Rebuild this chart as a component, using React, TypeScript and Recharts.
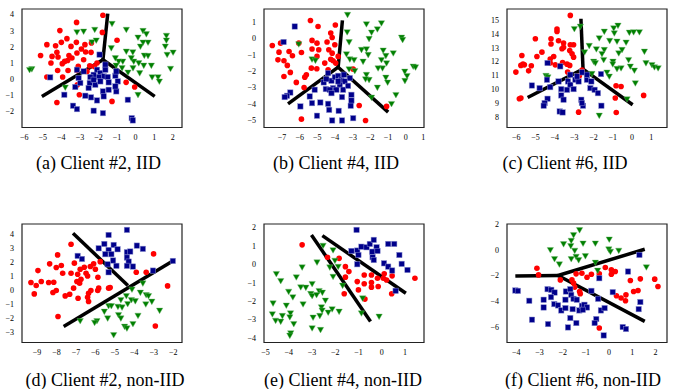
import React from 'react';
import { ScatterChart, Scatter, XAxis, YAxis, ReferenceLine, ReferenceArea } from 'recharts';

type P = [number, number];

// ---- (a) Client #2, IID ----
const redA: P[] = [
  [-1.76, 3.96], [-3.18, 3.52], [-4.08, 3.01], [-1.79, 2.9], [-3.7, 2.51], [-3.19, 2.28], [-4.0, 2.28],
  [-4.78, 2.14], [-4.31, 2.07], [-2.38, 2.24], [-2.73, 2.14], [-1.0, 2.41], [-5.12, 1.47], [-4.24, 1.66],
  [-4.18, 1.37], [-3.48, 2.03], [-2.92, 1.87], [-3.16, 1.62], [-2.69, 1.68], [-2.4, 1.66], [-3.43, 1.31],
  [-3.66, 1.16], [-3.82, 1.1], [-3.95, 0.96], [-3.59, 1.47], [-4.56, 1.0], [-3.09, 0.79], [-4.2, 0.54],
  [-3.64, 0.54], [-3.16, 0.54], [-2.47, 0.83], [-2.08, 1.0], [-2.22, 0.79], [-2.62, 0.48], [-4.78, 0.13],
  [-3.93, 0.13], [-3.14, -0.35], [-3.03, -0.97], [-4.24, -1.45], [-1.27, -1.38], [-0.51, -0.2],
  [-0.05, -0.49], [-4.5, 1.41], [-2.8, 1.2],
];
const greenA: P[] = [
  [-5.59, 0.63], [-5.71, 0.58], [-3.16, 2.92], [-2.8, 2.96], [-2.2, 3.07], [-1.27, 3.44], [-0.5, 3.07],
  [-2.35, 2.3], [-2.12, 2.41], [-1.31, 1.93], [-0.5, 1.72], [-0.15, 1.68], [0.13, 2.59], [0.4, 3.0],
  [0.58, 2.8], [0.67, 2.28], [0.4, 2.28], [0.26, 2.03], [0.47, 1.47], [0.67, 1.45], [1.66, 2.7],
  [1.66, 2.41], [1.6, 2.03], [2.02, 1.66], [1.7, 1.52], [1.88, 0.65], [0.85, 0.85], [0.44, 0.85],
  [0.17, 1.0], [-0.1, 1.1], [-0.14, 0.69], [0.22, 0.38], [0.89, 0.13], [1.21, 0.13], [1.28, -0.14],
  [-0.69, 1.1], [-0.91, 1.1], [-1.09, 1.31], [-1.05, 0.85], [-0.73, 0.69], [0.13, -0.97], [-3.79, -0.51],
  [-0.23, 1.31], [-0.41, 0.42],
];
const blueA: P[] = [
  [-1.94, 1.52], [-1.63, 0.9], [-2.08, 0.58], [-1.9, 0.38], [-1.72, 0.17], [-1.99, 0.13], [-2.26, 0.27],
  [-2.44, 0.13], [-2.8, 0.48], [-3.16, 0.58], [-3.07, 0.07], [-3.25, -0.49], [-2.47, -0.24], [-2.53, -0.55],
  [-2.17, -0.35], [-1.9, -0.14], [-1.5, 0.13], [-1.09, 0.21], [-1.04, 0.48], [-0.96, -0.14], [-1.45, -0.2],
  [-1.76, -0.76], [-1.45, -0.66], [-1.04, -0.76], [-1.09, -0.45], [-1.72, -1.07], [-2.08, -1.32],
  [-2.71, -1.03], [-2.4, -1.13], [-3.84, -0.97], [-3.37, -1.65], [-3.16, -1.86], [-2.26, -1.96],
  [-1.76, -2.11], [-0.42, -1.28], [-0.21, -2.42], [-0.15, -2.56], [-4.6, 0.11], [-2.98, -0.24],
  [-1.63, 0.58], [-2.26, -0.04],
];
const linesA: P[][] = [
  [[-1.76, 1.2], [-1.5, 4.06]],
  [[-1.76, 1.2], [-5.05, -1.07]],
  [[-1.76, 1.2], [1.03, -1.07]],
];

// ---- (b) Client #4, IID ----
const redB: P[] = [
  [-5.39, 1.1], [-4.96, 0.73], [-3.98, 0.82], [-7.55, -0.43], [-7.08, -0.29], [-7.17, -0.84], [-6.6, -0.8],
  [-5.9, -0.86], [-6.41, -1.06], [-7.23, -1.31], [-6.89, -1.37], [-6.7, -1.65], [-6.53, -2.08], [-6.89, -2.33],
  [-6.19, -2.69], [-5.71, -2.37], [-5.75, -3.0], [-5.3, -0.12], [-5.02, -0.29], [-5.3, -0.65], [-4.92, -0.69],
  [-4.45, -0.22], [-4.24, 0.33], [-4.16, 0.06], [-4.01, -0.39], [-4.35, -0.69], [-4.16, -0.9], [-4.24, -1.27],
  [-4.11, -1.37], [-3.96, -1.51], [-4.58, -1.51], [-5.02, -1.1], [-5.34, -1.82], [-5.03, -1.86],
  [-5.62, -2.22], [-6.05, -0.29], [-5.9, -4.94], [-2.27, -5.02], [-2.97, -1.88], [-2.63, -4.1],
  [-1.08, -4.16], [-3.82, -1.1], [-4.39, -1.92],
];
const greenB: P[] = [
  [-3.29, 1.45], [-2.22, 0.88], [-1.37, 0.94], [-1.6, 0.57], [-1.93, 0.37], [-2.07, -0.02], [-3.31, 0.39],
  [-3.2, -0.22], [-0.23, 0.06], [-0.17, -0.08], [-6.05, -0.35], [-3.35, -0.96], [-3.16, -1.27], [-2.92, -1.31],
  [-2.5, -0.69], [-2.22, -0.65], [-2.12, -1.0], [-1.27, -0.73], [-1.12, -1.06], [-1.37, -1.31], [-0.7, -0.9],
  [-1.08, -1.51], [-1.31, -1.82], [-1.56, -1.82], [-2.41, -1.41], [-3.2, -1.88], [-2.88, -1.98],
  [-2.22, -2.22], [-2.07, -2.53], [-2.27, -2.49], [-1.12, -2.39], [-1.02, -2.69], [-1.6, -3.0],
  [-0.05, -2.02], [0.08, -2.29], [-0.04, -2.59], [0.43, -1.71], [0.56, -1.76], [-0.55, -3.45], [-0.8, -4.0],
  [-1.93, -3.61], [-5.3, -1.27], [-5.11, -1.35],
];
const blueB: P[] = [
  [-6.28, 0.73], [-6.91, -0.22], [-6.53, -3.31], [-6.72, -3.51], [-6.85, -3.59], [-5.96, -4.16], [-5.3, -3.96],
  [-5.43, -3.55], [-5.15, -3.14], [-4.83, -3.92], [-4.64, -2.69], [-4.52, -3.1], [-4.39, -2.12], [-4.2, -2.59],
  [-4.01, -2.37], [-3.82, -2.29], [-3.64, -2.53], [-3.45, -2.63], [-3.73, -2.84], [-4.11, -3.04],
  [-4.3, -3.14], [-3.92, -3.14], [-3.54, -3.14], [-3.26, -2.9], [-3.16, -2.43], [-3.5, -2.22], [-4.2, -3.35],
  [-3.6, -3.59], [-3.07, -3.45], [-3.07, -3.8], [-3.11, -4.12], [-4.39, -4.0], [-4.33, -4.37], [-3.79, -4.43],
  [-5.02, -4.73], [-4.16, -5.02], [-3.6, -5.02], [-2.97, -4.88], [-3.82, -2.63], [-4.49, -2.49],
];
const linesB: P[][] = [
  [[-3.82, -1.76], [-3.58, 1.1]],
  [[-3.82, -1.76], [-6.66, -4.0]],
  [[-3.82, -1.76], [-0.99, -4.51]],
];

// ---- (c) Client #6, IID ----
const redC: P[] = [
  [-3.2, 15.31], [-3.89, 14.33], [-3.89, 14.16], [-5.01, 13.64], [-4.2, 13.64], [-4.2, 13.26], [-3.81, 13.5],
  [-3.55, 13.33], [-3.55, 13.02], [-3.2, 13.21], [-3.03, 13.21], [-3.63, 12.92], [-3.23, 12.8], [-3.11, 12.56],
  [-4.67, 12.68], [-4.93, 12.37], [-5.71, 12.44], [-5.65, 11.82], [-5.58, 11.77], [-5.76, 11.73], [-5.22, 11.7],
  [-5.36, 11.34], [-6.02, 11.25], [-4.06, 12.37], [-4.24, 12.18], [-4.24, 11.9], [-3.98, 11.77], [-3.6, 11.94],
  [-3.37, 11.82], [-3.23, 11.73], [-3.77, 11.7], [-3.34, 11.25], [-3.03, 12.32], [-5.84, 9.34], [-5.76, 9.39],
  [-2.77, 8.38], [-0.83, 10.27], [-0.57, 10.22], [-0.87, 9.39], [-0.82, 8.36], [0.6, 9.58], [-2.73, 10.99],
  [-2.59, 11.4],
];
const greenC: P[] = [
  [-2.99, 14.35], [-2.68, 14.52], [-1.44, 14.16], [-0.95, 14.4], [-0.73, 14.59], [-0.92, 14.04], [-1.16, 13.5],
  [-0.78, 13.45], [-0.31, 13.38], [-0.14, 14.09], [0.08, 14.12], [0.38, 14.12], [-1.7, 13.69], [-2.22, 13.14],
  [-1.85, 12.9], [-1.44, 12.85], [-1.56, 12.56], [-0.69, 12.61], [-0.52, 12.85], [-2.46, 12.68], [-1.99, 12.01],
  [-1.9, 11.9], [-1.47, 12.13], [-0.99, 12.01], [-1.0, 11.82], [-0.57, 11.54], [-0.78, 11.49], [-0.18, 12.13],
  [-0.09, 11.66], [0.12, 11.37], [0.64, 12.73], [0.72, 11.9], [1.03, 11.77], [1.16, 11.61], [1.35, 11.54],
  [-1.3, 11.23], [-1.18, 10.94], [0.17, 10.46], [-1.7, 8.14], [-0.26, 9.31], [-4.46, 10.99], [-4.36, 10.89],
  [-2.08, 11.13],
];
const blueC: P[] = [
  [-4.38, 11.9], [-3.72, 11.66], [-5.19, 10.29], [-4.79, 10.1], [-4.38, 9.34], [-4.53, 9.03], [-4.58, 8.84],
  [-4.24, 10.17], [-3.81, 10.58], [-3.67, 10.03], [-3.32, 10.58], [-3.2, 10.34], [-2.94, 10.7], [-2.77, 10.58],
  [-3.03, 10.03], [-3.37, 9.98], [-3.67, 9.58], [-3.55, 9.27], [-3.75, 8.43], [-3.6, 8.36], [-2.63, 9.27],
  [-2.54, 8.84], [-2.6, 9.03], [-2.34, 10.7], [-2.11, 10.58], [-2.16, 10.1], [-1.94, 9.98], [-1.77, 9.74],
  [-1.61, 11.11], [-1.59, 8.84], [-2.6, 11.23], [-2.85, 10.94], [-2.34, 11.06], [-3.2, 11.06], [-4.41, 10.7],
];
const linesC: P[][] = [
  [[-2.54, 11.46], [-2.65, 15.07]],
  [[-2.54, 11.46], [-5.41, 9.43]],
  [[-2.54, 11.46], [0.03, 8.91]],
];

// ---- (d) Client #2, non-IID ----
const redD: P[] = [
  [-7.25, 3.29], [-7.94, 2.53], [-8.95, 1.41], [-8.35, 1.89], [-8.01, 1.63], [-7.75, 1.77], [-7.68, 1.22],
  [-9.31, 0.56], [-9.04, 0.35], [-8.78, 0.63], [-8.4, 0.56], [-8.14, 0.58], [-9.14, -0.25], [-8.18, -0.15],
  [-8.01, -0.01], [-7.55, -0.39], [-7.32, -0.27], [-7.12, 0.16], [-6.89, -0.56], [-7.25, 1.22], [-7.08, 1.94],
  [-6.91, 1.15], [-6.95, 0.63], [-6.81, 0.51], [-6.74, 0.8], [-6.78, 1.51], [-6.57, 1.65], [-6.48, 1.22],
  [-6.4, 1.03], [-6.26, 1.7], [-6.09, 1.89], [-6.0, 1.51], [-5.87, 0.94], [-5.83, 0.16], [-5.88, -0.01],
  [-6.23, -0.01], [-6.35, -0.2], [-6.4, -0.49], [-6.35, -0.79], [-5.75, 2.05], [-5.32, 0.16], [-5.24, 0.2],
  [-7.92, -1.86], [-3.9, 1.29], [-3.39, 1.29], [-3.01, 2.6], [-2.29, 0.32], [-2.92, -2.53],
];
const greenD: P[] = [
  [-3.56, 0.51], [-4.12, 0.08], [-3.69, -0.15], [-3.39, -0.32], [-3.27, -0.39], [-4.41, -0.39], [-4.69, -0.67],
  [-4.15, -0.67], [-3.95, -0.75], [-4.34, -0.96], [-3.1, -0.79], [-3.41, -0.98], [-5.32, -1.1], [-5.18, -1.1],
  [-4.84, -1.15], [-4.63, -1.2], [-2.7, -1.43], [-5.54, -1.5], [-4.81, -1.74], [-4.69, -1.98], [-5.37, -1.98],
  [-3.81, -1.79], [-5.92, -2.17], [-6.04, -2.29], [-6.78, -2.17], [-4.07, -2.38], [-4.5, -2.57],
  [-4.38, -2.69], [-5.06, -3.17],
];
const blueD: P[] = [
  [-5.32, 3.95], [-4.38, 4.31], [-5.83, 3.0], [-5.54, 3.31], [-5.06, 3.24], [-5.32, 2.88], [-4.86, 2.93],
  [-5.49, 2.58], [-5.18, 2.58], [-6.91, 2.46], [-6.69, 2.24], [-4.38, 2.72], [-4.21, 2.77], [-3.87, 3.19],
  [-3.56, 2.96], [-4.38, 2.34], [-4.29, 2.05], [-4.38, 1.75], [-4.07, 1.7], [-5.09, 2.13], [-5.37, 1.86],
  [-4.92, 1.75], [-5.32, 1.29], [-3.04, 1.41], [-2.02, 2.1],
];
const linesD: P[][] = [
  [[-7.15, 4.07], [-4.33, 0.35]],
  [[-7.63, -2.57], [-1.98, 2.13]],
];

// ---- (e) Client #4, non-IID ----
const redE: P[] = [
  [-3.42, 1.05], [-2.33, 0.38], [-1.83, 0.32], [-1.56, -0.13], [-1.41, -0.4], [-1.56, -0.7], [-1.61, -1.6],
  [-1.05, -0.94], [-1.0, -1.39], [-0.72, -1.89], [-0.75, -0.58], [-0.44, -0.58], [-0.44, -0.99], [-0.44, -1.24],
  [-0.75, -1.06], [-0.18, -0.76], [-0.15, -1.21], [0.07, -0.76], [0.21, -0.85], [0.45, -0.63], [0.43, -1.6],
  [1.43, -0.76], [0.11, -0.52],
];
const greenE: P[] = [
  [-2.52, 1.01], [-2.09, 0.77], [-2.78, 0.11], [-3.42, -0.16], [-2.01, 0.2], [-1.87, -0.13], [-2.23, -0.16],
  [-2.09, -0.67], [-4.53, -0.52], [-4.34, -0.9], [-3.67, -0.7], [-4.0, -1.48], [-3.82, -1.78], [-3.48, -1.24],
  [-3.26, -1.26], [-2.99, -1.06], [-3.05, -1.6], [-2.99, -1.71], [-2.69, -1.44], [-2.8, -1.66], [-2.55, -1.53],
  [-2.42, -1.96], [-2.59, -2.32], [-2.56, -2.5], [-2.13, -2.43], [-2.3, -2.61], [-1.83, -2.56], [-3.38, -2.16],
  [-4.1, -2.23], [-4.67, -2.11], [-4.7, -2.7], [-4.27, -2.79], [-3.92, -2.65], [-3.95, -2.86], [-4.56, -3.05],
  [-4.34, -3.1], [-3.78, -3.23], [-2.95, -2.88], [-2.66, -2.79], [-2.99, -3.46], [-2.63, -3.55],
  [-3.91, -3.73], [-3.95, -3.86], [-0.87, -2.65], [-0.11, -2.83], [-0.82, -1.84], [-1.68, -1.15],
];
const blueE: P[] = [
  [-1.08, 1.86], [-1.3, 0.72], [-1.05, 0.74], [-0.87, 0.95], [-0.65, 0.92], [-0.51, 1.1], [-0.34, 1.32],
  [-0.22, 0.92], [-0.18, 0.72], [-0.41, 0.68], [-1.0, 0.5], [-0.39, 0.38], [-0.34, 0.23], [0.28, 1.1],
  [0.54, 1.1], [-1.05, 0.0], [0.1, 0.05], [0.28, -0.13], [0.45, -0.34], [0.76, 0.5], [0.86, 0.02],
  [1.11, -0.31], [0.6, -1.44],
];
const linesE: P[][] = [
  [[-3.02, 1.59], [-0.48, -3.1]],
  [[-2.55, 1.55], [1.04, -1.57]],
];

// ---- (f) Client #6, non-IID ----
const redF: P[] = [
  [-3.11, -1.43], [-3.04, -1.95], [-2.1, -2.34], [-1.6, -2.34], [-1.42, -1.87], [-1.17, -1.82], [-0.95, -2.13],
  [-0.76, -1.9], [-0.42, -1.87], [-0.16, -1.38], [0.1, -1.56], [0.27, -1.69], [0.1, -1.9], [0.32, -3.57],
  [0.52, -3.75], [0.71, -3.96], [0.73, -3.5], [1.06, -3.24], [1.25, -3.16], [1.35, -2.26], [0.92, -2.39],
  [1.97, -2.28], [2.11, -2.85], [-0.42, -6.08], [-1.48, -2.9], [-1.24, -3.42], [-1.27, -3.24], [-1.53, -2.59],
];
const greenF: P[] = [
  [-1.27, 1.54], [-1.53, 1.15], [-1.63, 0.71], [-1.96, 0.45], [-1.65, 0.3], [-1.48, -0.06], [-1.12, 0.5],
  [-0.59, 0.5], [0.01, 0.81], [-0.01, 0.04], [0.06, -0.14], [0.42, -0.06], [-2.53, -0.01], [-2.35, -0.71],
  [-2.14, -1.12], [-1.63, -0.71], [-1.42, -0.53], [-1.31, -0.79], [-1.02, -0.48], [-0.59, -0.99],
  [-0.49, -1.61], [1.61, -1.35],
];
const blueF: P[] = [
  [-4.04, -3.16], [-3.93, -3.19], [-3.44, -3.96], [-3.32, -5.43], [-2.65, -3.06], [-2.49, -3.11], [-2.35, -3.32],
  [-2.5, -3.68], [-2.82, -3.88], [-2.82, -4.48], [-2.63, -5.77], [-2.36, -4.22], [-2.2, -4.32], [-2.06, -4.71],
  [-1.88, -4.53], [-1.88, -3.88], [-1.86, -3.24], [-1.67, -3.06], [-1.63, -3.5], [-1.53, -3.81], [-1.39, -3.88],
  [-1.57, -4.61], [-1.67, -5.3], [-1.77, -6.03], [-1.41, -5.69], [-1.28, -4.71], [-1.17, -4.35], [-1.06, -4.27],
  [-0.95, -4.48], [-1.13, -4.66], [-0.76, -3.19], [-0.47, -3.81], [-0.35, -4.71], [-0.19, -4.53],
  [-0.55, -5.38], [-0.62, -5.69], [-0.42, -2.21], [-0.23, -6.65], [0.16, -3.29], [0.59, -6.0], [0.73, -6.15],
  [0.82, -1.69], [1.35, -4.06], [1.28, -4.61], [1.31, -0.4],
];
const linesF: P[][] = [
  [[-4.04, -2.03], [-2.2, -2.0]],
  [[-2.2, -2.0], [1.54, 0.04]],
  [[-2.2, -2.0], [1.54, -5.56]],
];

// tick labels
const ticksA = { x: [-6, -5, -4, -3, -2, -1, 0, 1, 2], y: [-2, -1, 0, 1, 2, 3, 4] };
const ticksB = { x: [-7, -6, -5, -4, -3, -2, -1, 0, 1], y: [-5, -4, -3, -2, -1, 0, 1] };
const ticksC = { x: [-6, -5, -4, -3, -2, -1, 0, 1], y: [8, 9, 10, 11, 12, 13, 14, 15] };
const ticksD = { x: [-9, -8, -7, -6, -5, -4, -3, -2], y: [-3, -2, -1, 0, 1, 2, 3, 4] };
const ticksE = { x: [-5, -4, -3, -2, -1, 0, 1], y: [-4, -3, -2, -1, 0, 1, 2] };
const ticksF = { x: [-4, -3, -2, -1, 0, 1, 2], y: [-6, -4, -2, 0, 2] };

const captions = [
  '(a) Client #2, IID', '(b) Client #4, IID', '(c) Client #6, IID',
  '(d) Client #2, non-IID', '(e) Client #4, non-IID', '(f) Client #6, non-IID',
];

const SERIF = '"Liberation Serif", "Times New Roman", Times, "DejaVu Serif", serif';

const PLOT_W = 160;
const PLOT_H = 118.5;
const Y_AXIS_W = 30;
const TOP_PAD = 4;
const X_AXIS_H = 16;
const RIGHT_PAD = 6;

const PANELS = [
  { red: redA, green: greenA, blue: blueA, lines: linesA, ticks: ticksA, xd: [-6.12, 2.5], yd: [-3.0, 4.35], left: 21.7, top: 9.3, cap: 98.5, capY: 163 },
  { red: redB, green: greenB, blue: blueB, lines: linesB, ticks: ticksB, xd: [-8.02, 1.04], yd: [-5.45, 1.8], left: 264.3, top: 9.3, cap: 336, capY: 163 },
  { red: redC, green: greenC, blue: blueC, lines: linesC, ticks: ticksC, xd: [-6.48, 1.81], yd: [7.28, 15.77], left: 506.7, top: 9.3, cap: 565, capY: 163 },
  { red: redD, green: greenD, blue: blueD, lines: linesD, ticks: ticksD, xd: [-9.77, -1.55], yd: [-3.71, 4.73], left: 21.7, top: 224, cap: 105, capY: 380 },
  { red: redE, green: greenE, blue: blueE, lines: linesE, ticks: ticksE, xd: [-5.06, 1.82], yd: [-4.24, 2.18], left: 264.3, top: 224, cap: 343, capY: 380 },
  { red: redF, green: greenF, blue: blueF, lines: linesF, ticks: ticksF, xd: [-4.4, 2.5], yd: [-7.2, 2.0], left: 506.7, top: 224, cap: 583, capY: 380 },
];

const toPts = (arr: P[]) => arr.map(([x, y]) => ({ x, y }));
const fmt = (v: number) => String(v).replace('-', '\u2212');
const tickStyle = { fontSize: 8, fill: '#000', fontFamily: SERIF };

const RedDot = (p: any) => <circle cx={p.cx} cy={p.cy} r={2.8} fill="#ff0000" />;
const BlueSq = (p: any) => (
  <rect x={p.cx - 2.7} y={p.cy - 2.7} width={5.4} height={5.4} fill="#00008b" stroke="#8c90d0" strokeWidth={0.5} />
);
const GreenTri = (p: any) => (
  <polygon
    points={`${p.cx - 3.2},${p.cy - 2.4} ${p.cx + 3.2},${p.cy - 2.4} ${p.cx},${p.cy + 3.2}`}
    fill="#007f00"
    stroke="#6fb86f"
    strokeWidth={0.4}
  />
);

const Panel = ({ panel }: { panel: (typeof PANELS)[number] }) => {
  const w = Y_AXIS_W + PLOT_W + RIGHT_PAD;
  const h = TOP_PAD + PLOT_H + X_AXIS_H;
  return (
    <div style={{ position: 'absolute', left: panel.left - Y_AXIS_W, top: panel.top - TOP_PAD }}>
      <ScatterChart width={w} height={h} margin={{ top: TOP_PAD, right: RIGHT_PAD, bottom: 0, left: 0 }}>
        <XAxis
          type="number"
          dataKey="x"
          domain={panel.xd}
          allowDataOverflow
          ticks={panel.ticks.x}
          tickFormatter={fmt}
          tick={tickStyle}
          tickLine={false}
          axisLine={false}
          tickMargin={1}
          height={X_AXIS_H}
          interval={0}
        />
        <YAxis
          type="number"
          dataKey="y"
          domain={panel.yd}
          allowDataOverflow
          ticks={panel.ticks.y}
          tickFormatter={fmt}
          tick={tickStyle}
          tickLine={false}
          axisLine={false}
          tickMargin={2}
          width={Y_AXIS_W}
          interval={0}
        />
        <Scatter data={toPts(panel.red)} shape={RedDot} isAnimationActive={false} />
        <Scatter data={toPts(panel.green)} shape={GreenTri} isAnimationActive={false} />
        <Scatter data={toPts(panel.blue)} shape={BlueSq} isAnimationActive={false} />
        {panel.lines.map((seg, i) => (
          <ReferenceLine
            key={i}
            segment={[{ x: seg[0][0], y: seg[0][1] }, { x: seg[1][0], y: seg[1][1] }]}
            stroke="#000"
            strokeWidth={3.5}
            ifOverflow="visible"
          />
        ))}
        <ReferenceArea
          x1={panel.xd[0]}
          x2={panel.xd[1]}
          y1={panel.yd[0]}
          y2={panel.yd[1]}
          fill="none"
          fillOpacity={0}
          stroke="#222"
          strokeWidth={1.2}
          ifOverflow="visible"
        />
      </ScatterChart>
    </div>
  );
};

export default function App() {
  return (
    <div style={{ position: 'absolute', left: 0, top: 0, width: 687, height: 389, background: '#fff' }}>
      {PANELS.map((p, i) => (
        <React.Fragment key={i}>
          <Panel panel={p} />
          <div
            style={{
              position: 'absolute',
              left: p.cap - 120,
              width: 240,
              top: p.capY - 11,
              textAlign: 'center',
              fontFamily: SERIF,
              fontSize: 18,
              lineHeight: '22px',
              color: '#000',
              whiteSpace: 'nowrap',
            }}
          >
            {captions[i]}
          </div>
        </React.Fragment>
      ))}
    </div>
  );
}
